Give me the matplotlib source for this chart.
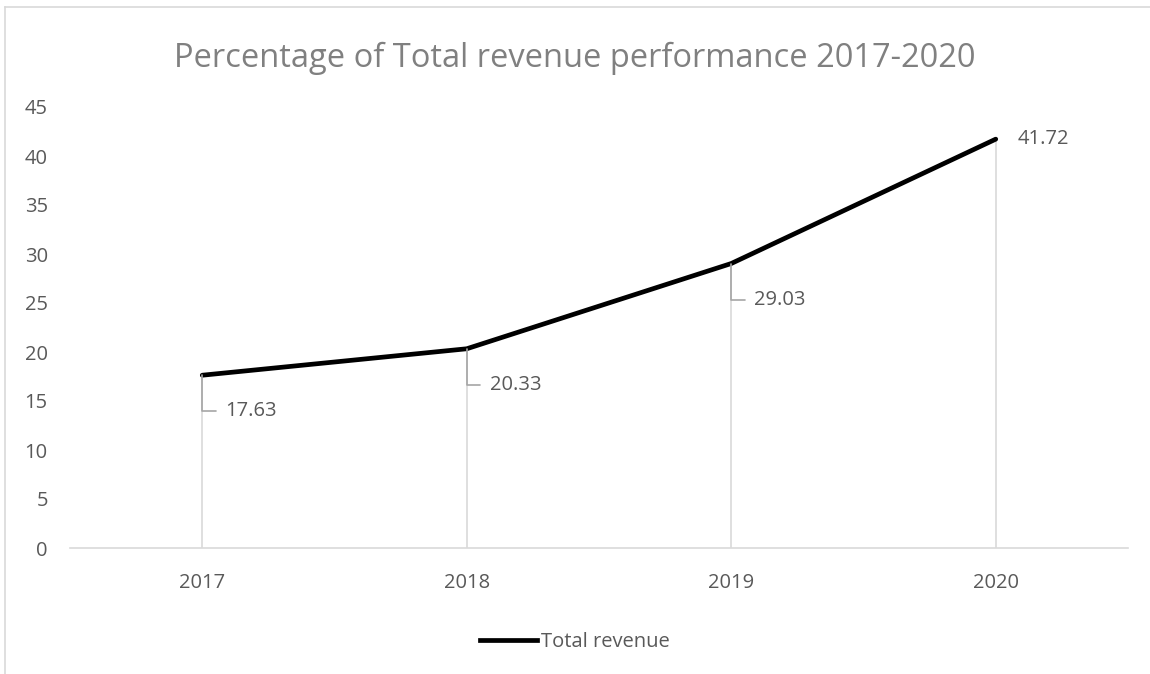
import matplotlib.pyplot as plt
from matplotlib.lines import Line2D

years = ['2017', '2018', '2019', '2020']
revenue = [17.63, 20.33, 29.03, 41.72]
y_ticks = [0, 5, 10, 15, 20, 25, 30, 35, 40, 45]

TEXT = '#595959'
GRID = '#d9d9d9'
FS = 14.5

plt.rcParams['font.family'] = ['Open Sans', 'DejaVu Sans']

W, H = 1150, 674
fig = plt.figure(figsize=(W / 100, H / 100), dpi=100)
ax = fig.add_axes([70 / W, (H - 548) / H, (1128 - 70) / W, (548 - 107) / H])

x = list(range(len(years)))

# drop lines from each point to the axis
ax.vlines(x, 0, revenue, color=GRID, linewidth=1.2, zorder=1)
ax.plot(x, revenue, color='black', linewidth=3.4, solid_capstyle='round',
        label='Total revenue', zorder=3)

ax.set_xlim(-0.5, len(years) - 0.5)
ax.set_ylim(0, 45)
ax.set_xticks(x)
ax.set_xticklabels(years)
ax.set_yticks(y_ticks)
ax.tick_params(length=0, labelsize=FS, colors=TEXT)
ax.tick_params(axis='x', pad=18)
ax.tick_params(axis='y', pad=16)
for s in ['top', 'right', 'left']:
    ax.spines[s].set_visible(False)
ax.spines['bottom'].set_color(GRID)
ax.spines['bottom'].set_linewidth(1.2)

# data labels with leader lines for the first three, plain for the last
for i, v in enumerate(revenue[:3]):
    ax.annotate(f'{v:.2f}', xy=(i, v), xytext=(i + 0.087, v - 3.7),
                fontsize=FS, color=TEXT, va='center', ha='left',
                arrowprops=dict(arrowstyle='-', color='#a6a6a6', lw=1.2,
                                connectionstyle='angle,angleA=0,angleB=90,rad=0',
                                shrinkA=5, shrinkB=0))
ax.annotate(f'{revenue[3]:.2f}', xy=(3, revenue[3]), xytext=(16, 0),
            textcoords='offset points', fontsize=FS, color=TEXT,
            va='center', ha='left')

fig.text(0.5, (H - 58) / H, 'Percentage of Total revenue performance 2017-2020',
         ha='center', va='center', fontsize=23.5, color='#808080')

handle = Line2D([], [], color='black', linewidth=3.4)
fig.legend([handle], ['Total revenue'], loc='center',
           bbox_to_anchor=(0.5, (H - 642) / H), frameon=False,
           fontsize=FS, labelcolor=TEXT, handlelength=2.8, handletextpad=0.2)

# chart border (left and top edges visible)
fig.add_artist(Line2D([5 / W, 5 / W], [0, (H - 7) / H], color=GRID, lw=1.2))
fig.add_artist(Line2D([5 / W, 1], [(H - 7) / H, (H - 7) / H], color=GRID, lw=1.2))

fig.savefig('out.png', dpi=100)
